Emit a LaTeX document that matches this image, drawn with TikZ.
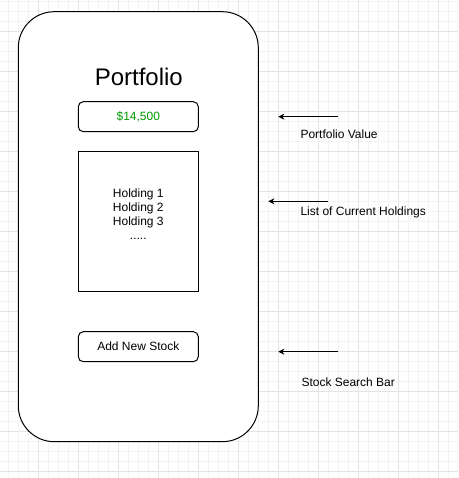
\documentclass[tikz,border=0pt]{standalone}
\usepackage{fontspec}
\setmainfont{Liberation Sans}
\usetikzlibrary{arrows.meta}
\definecolor{gridminor}{HTML}{F3F3F3}
\definecolor{gridmajor}{HTML}{E4E4E4}
\definecolor{valgreen}{HTML}{009900}
\tikzset{
  panel/.style={draw=black, line width=1pt, fill=white, rounded corners=36pt},
  fieldbox/.style={draw=black, line width=1pt, fill=white, rounded corners=5pt},
  listbox/.style={draw=black, line width=1pt, fill=white},
  txt/.style={inner sep=0pt, font=\fontsize{12}{14}\selectfont},
  note/.style={txt, anchor=base west},
  pointer/.style={line width=1pt, -{Stealth[length=6pt,width=6pt,inset=1.8pt]}}
}
\begin{document}
\begin{tikzpicture}[x=1pt,y=-1pt]
\useasboundingbox (0,0) rectangle (458,478);
\fill[white] (0,0) rectangle (458,478);
% grid
\foreach \gx in {8.3,18.3,...,458} \draw[gridminor, line width=0.8pt] (\gx,0) -- (\gx,478);
\foreach \gy in {1.7,11.7,...,478} \draw[gridminor, line width=0.8pt] (0,\gy) -- (458,\gy);
\foreach \gx in {38.3,78.3,...,458} \draw[gridmajor, line width=0.8pt] (\gx,0) -- (\gx,478);
\foreach \gy in {31.7,71.7,...,478} \draw[gridmajor, line width=0.8pt] (0,\gy) -- (458,\gy);
% panel
\draw[panel] (18.3,11.7) rectangle (258.3,441.7);
\node[txt, anchor=base, font=\fontsize{24}{28}\selectfont] (title) at (138.8,85.7) {Portfolio};
% value box
\draw[fieldbox] (78.3,101.7) rectangle (198.3,131.7);
\node[txt, anchor=base, text=valgreen] (value) at (138.3,120.7) {\$14,500};
% holdings
\draw[listbox] (78.3,151.7) rectangle (198.3,291.7);
\node[txt, anchor=base] (h1) at (138.3,197.7) {Holding 1};
\node[txt, anchor=base] (h2) at (138.3,211.7) {Holding 2};
\node[txt, anchor=base] (h3) at (138.3,225.7) {Holding 3};
\node[txt, anchor=base] (h4) at (138.3,239.7) {.....};
% add stock
\draw[fieldbox] (78.3,331.7) rectangle (198.3,361.7);
\node[txt, anchor=base] (add) at (138.3,350.7) {Add New Stock};
% pointers
\coordinate (p1s) at (338.3,116.7);
\coordinate (p1e) at (278.3,116.7);
\coordinate (p2s) at (328.3,201.3);
\coordinate (p2e) at (268.3,201.3);
\coordinate (p3s) at (338.3,351.7);
\coordinate (p3e) at (278.3,351.7);
\draw[pointer] (p1s) -- (p1e);
\draw[pointer] (p2s) -- (p2e);
\draw[pointer] (p3s) -- (p3e);
\node[note] (n1) at (300.3,138.7) {Portfolio Value};
\node[note] (n2) at (300.3,215.7) {List of Current Holdings};
\node[note] (n3) at (301.3,386) {Stock Search Bar};
\end{tikzpicture}
\end{document}
